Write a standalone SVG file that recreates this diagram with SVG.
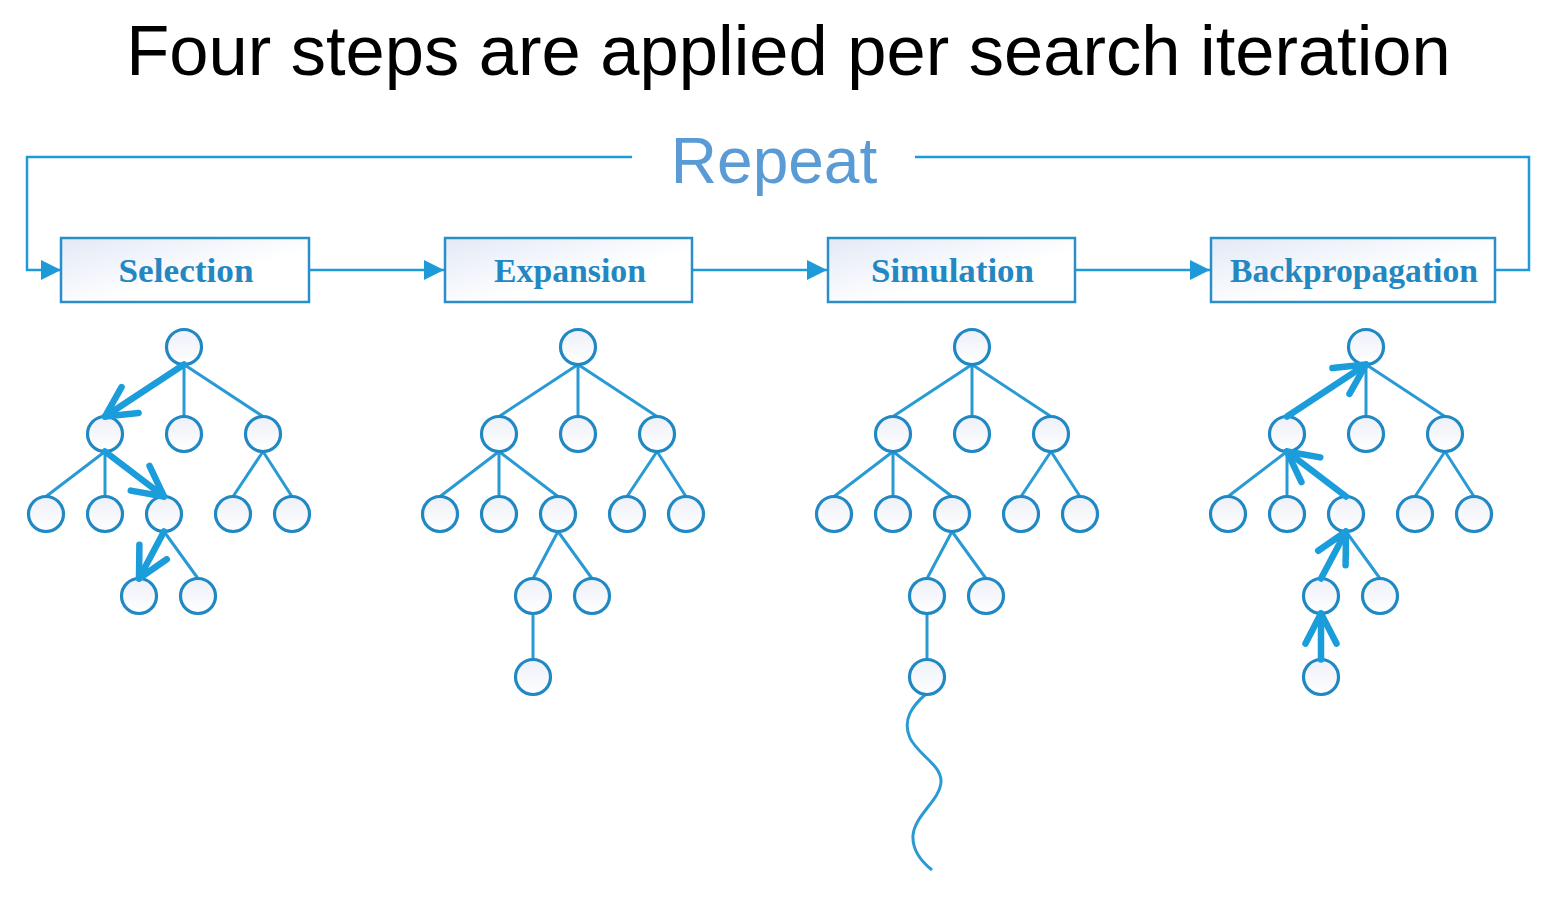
<svg xmlns="http://www.w3.org/2000/svg" width="1560" height="900" viewBox="0 0 1560 900">
  <defs>
    <linearGradient id="boxFill" x1="0" y1="0" x2="1" y2="1">
      <stop offset="0" stop-color="#e2e9f6"/>
      <stop offset="0.6" stop-color="#ffffff"/>
    </linearGradient>
    <linearGradient id="nodeFill" x1="0" y1="0" x2="0" y2="1">
      <stop offset="0" stop-color="#edf0f8"/>
      <stop offset="1" stop-color="#ffffff"/>
    </linearGradient>
    <marker id="tri" markerUnits="userSpaceOnUse" viewBox="-22 -12 24 24" markerWidth="24" markerHeight="24" refX="0" refY="0" orient="auto">
      <path d="M-20,-10 L0,0 L-20,10 Z" fill="#1f9ad8"/>
    </marker>
    <marker id="chev" markerUnits="userSpaceOnUse" viewBox="-38 -22 44 44" markerWidth="44" markerHeight="44" refX="0" refY="0" orient="auto">
      <path d="M-30,-15.5 L0,0 L-30,15.5" fill="none" stroke="#1b9ddb" stroke-width="6.5" stroke-linecap="round" stroke-linejoin="round"/>
    </marker>
  </defs>
  <style>
    .title { font-family: "Liberation Sans", Arial, sans-serif; font-size: 70.5px; fill: #000000; }
    .repeat { font-family: "Liberation Sans", Arial, sans-serif; font-size: 64px; fill: #5b9bd5; }
    .box { fill: url(#boxFill); stroke: #2a8ec7; stroke-width: 2.5; }
    .boxtext { font-family: "Liberation Serif", "Times New Roman", serif; font-weight: bold; font-size: 33px; fill: #2387c2; }
    .flow { fill: none; stroke: #1f9ad8; stroke-width: 2.5; }
    .edge { fill: none; stroke: #2a9ad5; stroke-width: 3; }
    .node { fill: url(#nodeFill); stroke: #2088c2; stroke-width: 3.2; }
    .thick { fill: none; stroke: #1b9ddb; stroke-width: 6.5; stroke-linecap: round; marker-end: url(#chev); }
  </style>
  <rect width="1560" height="900" fill="#ffffff"/>

  <text class="title" x="788.5" y="75" text-anchor="middle">Four steps are applied per search iteration</text>
  <text class="repeat" x="774" y="183" text-anchor="middle">Repeat</text>

  <g id="connectors">
    <path class="flow" d="M632,157 H27 V270 H61" marker-end="url(#tri)"/>
    <path class="flow" d="M915,157 H1529 V270 H1495"/>
    <path class="flow" d="M309,270 H444" marker-end="url(#tri)"/>
    <path class="flow" d="M692,270 H827" marker-end="url(#tri)"/>
    <path class="flow" d="M1075,270 H1210" marker-end="url(#tri)"/>
  </g>

  <g id="selection">
    <rect class="box" x="61" y="238" width="248" height="64"/>
    <text class="boxtext" x="186" y="282" text-anchor="middle" textLength="135" lengthAdjust="spacingAndGlyphs">Selection</text>
  </g>
  <g id="expansion">
    <rect class="box" x="445" y="238" width="247" height="64"/>
    <text class="boxtext" x="570" y="282" text-anchor="middle" textLength="152" lengthAdjust="spacingAndGlyphs">Expansion</text>
  </g>
  <g id="simulation">
    <rect class="box" x="828" y="238" width="247" height="64"/>
    <text class="boxtext" x="952.5" y="282" text-anchor="middle" textLength="163" lengthAdjust="spacingAndGlyphs">Simulation</text>
  </g>
  <g id="backpropagation">
    <rect class="box" x="1211" y="238" width="284" height="64"/>
    <text class="boxtext" x="1354" y="282" text-anchor="middle" textLength="248" lengthAdjust="spacingAndGlyphs">Backpropagation</text>
  </g>

  <!-- Selection tree -->
  <g id="tree-selection">
    <g class="tree-edges">
      <path class="edge" d="M184,364.5 L105,416.5 M184,364.5 L184,416.5 M184,364.5 L263,416.5 M105,451.5 L46,496.5 M105,451.5 L105,496.5 M105,451.5 L164,496.5 M263,451.5 L233,496.5 M263,451.5 L292,496.5 M164,531.5 L139,578.5 M164,531.5 L198,578.5"/>
    </g>
    <g id="sel-A"><circle class="node" cx="184" cy="347" r="17.5"/></g>
    <g id="sel-B1"><circle class="node" cx="105" cy="434" r="17.5"/></g>
    <g id="sel-B2"><circle class="node" cx="184" cy="434" r="17.5"/></g>
    <g id="sel-B3"><circle class="node" cx="263" cy="434" r="17.5"/></g>
    <g id="sel-C1"><circle class="node" cx="46" cy="514" r="17.5"/></g>
    <g id="sel-C2"><circle class="node" cx="105" cy="514" r="17.5"/></g>
    <g id="sel-C3"><circle class="node" cx="164" cy="514" r="17.5"/></g>
    <g id="sel-C4"><circle class="node" cx="233" cy="514" r="17.5"/></g>
    <g id="sel-C5"><circle class="node" cx="292" cy="514" r="17.5"/></g>
    <g id="sel-D1"><circle class="node" cx="139" cy="596" r="17.5"/></g>
    <g id="sel-D2"><circle class="node" cx="198" cy="596" r="17.5"/></g>
    <g class="tree-arrows">
      <path class="thick" d="M184,364.5 L105,416.5"/>
      <path class="thick" d="M105,451.5 L164,496.5"/>
      <path class="thick" d="M164,531.5 L139,578.5"/>
    </g>
  </g>

  <!-- Expansion tree -->
  <g id="tree-expansion" transform="translate(394,0)">
    <g class="tree-edges">
      <path class="edge" d="M184,364.5 L105,416.5 M184,364.5 L184,416.5 M184,364.5 L263,416.5 M105,451.5 L46,496.5 M105,451.5 L105,496.5 M105,451.5 L164,496.5 M263,451.5 L233,496.5 M263,451.5 L292,496.5 M164,531.5 L139,578.5 M164,531.5 L198,578.5 M139,613.5 L139,659.5"/>
    </g>
    <g id="exp-A"><circle class="node" cx="184" cy="347" r="17.5"/></g>
    <g id="exp-B1"><circle class="node" cx="105" cy="434" r="17.5"/></g>
    <g id="exp-B2"><circle class="node" cx="184" cy="434" r="17.5"/></g>
    <g id="exp-B3"><circle class="node" cx="263" cy="434" r="17.5"/></g>
    <g id="exp-C1"><circle class="node" cx="46" cy="514" r="17.5"/></g>
    <g id="exp-C2"><circle class="node" cx="105" cy="514" r="17.5"/></g>
    <g id="exp-C3"><circle class="node" cx="164" cy="514" r="17.5"/></g>
    <g id="exp-C4"><circle class="node" cx="233" cy="514" r="17.5"/></g>
    <g id="exp-C5"><circle class="node" cx="292" cy="514" r="17.5"/></g>
    <g id="exp-D1"><circle class="node" cx="139" cy="596" r="17.5"/></g>
    <g id="exp-D2"><circle class="node" cx="198" cy="596" r="17.5"/></g>
    <g id="exp-E1"><circle class="node" cx="139" cy="677" r="17.5"/></g>
  </g>

  <!-- Simulation tree -->
  <g id="tree-simulation" transform="translate(788,0)">
    <g class="tree-edges">
      <path class="edge" d="M184,364.5 L105,416.5 M184,364.5 L184,416.5 M184,364.5 L263,416.5 M105,451.5 L46,496.5 M105,451.5 L105,496.5 M105,451.5 L164,496.5 M263,451.5 L233,496.5 M263,451.5 L292,496.5 M164,531.5 L139,578.5 M164,531.5 L198,578.5 M139,613.5 L139,659.5"/>
      <path class="edge" d="M138,694 C124,706 114,720 122,738 C130,755 154,765 153,782 C152,800 127,815 125,835 C124,850 134,862 144,870"/>
    </g>
    <g id="sim-A"><circle class="node" cx="184" cy="347" r="17.5"/></g>
    <g id="sim-B1"><circle class="node" cx="105" cy="434" r="17.5"/></g>
    <g id="sim-B2"><circle class="node" cx="184" cy="434" r="17.5"/></g>
    <g id="sim-B3"><circle class="node" cx="263" cy="434" r="17.5"/></g>
    <g id="sim-C1"><circle class="node" cx="46" cy="514" r="17.5"/></g>
    <g id="sim-C2"><circle class="node" cx="105" cy="514" r="17.5"/></g>
    <g id="sim-C3"><circle class="node" cx="164" cy="514" r="17.5"/></g>
    <g id="sim-C4"><circle class="node" cx="233" cy="514" r="17.5"/></g>
    <g id="sim-C5"><circle class="node" cx="292" cy="514" r="17.5"/></g>
    <g id="sim-D1"><circle class="node" cx="139" cy="596" r="17.5"/></g>
    <g id="sim-D2"><circle class="node" cx="198" cy="596" r="17.5"/></g>
    <g id="sim-E1"><circle class="node" cx="139" cy="677" r="17.5"/></g>
  </g>

  <!-- Backpropagation tree -->
  <g id="tree-backpropagation" transform="translate(1182,0)">
    <g class="tree-edges">
      <path class="edge" d="M184,364.5 L105,416.5 M184,364.5 L184,416.5 M184,364.5 L263,416.5 M105,451.5 L46,496.5 M105,451.5 L105,496.5 M105,451.5 L164,496.5 M263,451.5 L233,496.5 M263,451.5 L292,496.5 M164,531.5 L139,578.5 M164,531.5 L198,578.5 M139,613.5 L139,659.5"/>
    </g>
    <g id="bp-A"><circle class="node" cx="184" cy="347" r="17.5"/></g>
    <g id="bp-B1"><circle class="node" cx="105" cy="434" r="17.5"/></g>
    <g id="bp-B2"><circle class="node" cx="184" cy="434" r="17.5"/></g>
    <g id="bp-B3"><circle class="node" cx="263" cy="434" r="17.5"/></g>
    <g id="bp-C1"><circle class="node" cx="46" cy="514" r="17.5"/></g>
    <g id="bp-C2"><circle class="node" cx="105" cy="514" r="17.5"/></g>
    <g id="bp-C3"><circle class="node" cx="164" cy="514" r="17.5"/></g>
    <g id="bp-C4"><circle class="node" cx="233" cy="514" r="17.5"/></g>
    <g id="bp-C5"><circle class="node" cx="292" cy="514" r="17.5"/></g>
    <g id="bp-D1"><circle class="node" cx="139" cy="596" r="17.5"/></g>
    <g id="bp-D2"><circle class="node" cx="198" cy="596" r="17.5"/></g>
    <g id="bp-E1"><circle class="node" cx="139" cy="677" r="17.5"/></g>
    <g class="tree-arrows">
      <path class="thick" d="M139,659.5 L139,613.5"/>
      <path class="thick" d="M139,578.5 L164,531.5"/>
      <path class="thick" d="M164,496.5 L105,451.5"/>
      <path class="thick" d="M105,416.5 L184,364.5"/>
    </g>
  </g>
</svg>
